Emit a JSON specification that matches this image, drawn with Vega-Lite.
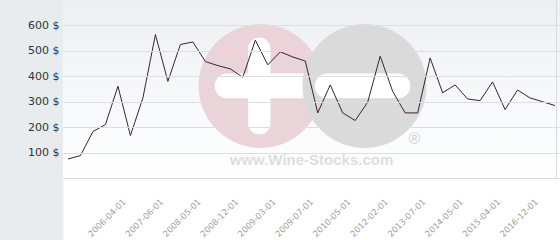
{
  "$schema": "https://vega.github.io/schema/vega-lite/v6.json",
  "autosize": {"type": "none"},
  "width": 497,
  "height": 178,
  "padding": {"left": 63, "top": 0, "right": 0, "bottom": 62},
  "background": "#e8ecef",
  "config": {
    "view": {
      "stroke": null,
      "fill": {"gradient": "linear", "x1": 0, "y1": 0, "x2": 0, "y2": 1, "stops": [{"offset": 0, "color": "#edf0f3"}, {"offset": 1, "color": "#ffffff"}]}
    },
    "font": "DejaVu Sans"
  },
  "resolve": {"scale": {"x": "independent", "y": "independent"}},
  "layer": [
    {
      "data": {"values": [{}]},
      "layer": [
        {
          "mark": {"type": "point", "shape": "circle", "filled": true, "size": 15376, "color": "#ebd4d9", "opacity": 1},
          "encoding": {
            "x": {"datum": 0.3975, "type": "quantitative", "scale": {"domain": [0, 1]}, "axis": null},
            "y": {"datum": 0.517, "type": "quantitative", "scale": {"domain": [0, 1]}, "axis": null}
          }
        },
        {
          "mark": {"type": "point", "shape": "M -0.2 -0.6 A 0.18 0.18 0 0 1 0.16 -0.6 L 0.16 0.6 A 0.18 0.18 0 0 1 -0.2 0.6 Z M -0.54 -0.2 L 0.8 -0.2 L 0.8 0.2 L -0.54 0.2 A 0.2 0.2 0 0 1 -0.54 -0.2 Z", "filled": true, "size": 15376, "color": "#ffffff", "opacity": 1},
          "encoding": {
            "x": {"datum": 0.3975, "type": "quantitative", "scale": {"domain": [0, 1]}, "axis": null},
            "y": {"datum": 0.517, "type": "quantitative", "scale": {"domain": [0, 1]}, "axis": null}
          }
        },
        {
          "mark": {"type": "point", "shape": "circle", "filled": true, "size": 15376, "color": "#dadada", "opacity": 1},
          "encoding": {
            "x": {"datum": 0.6066, "type": "quantitative", "scale": {"domain": [0, 1]}, "axis": null},
            "y": {"datum": 0.517, "type": "quantitative", "scale": {"domain": [0, 1]}, "axis": null}
          }
        },
        {
          "mark": {"type": "point", "shape": "M -0.6 -0.2 L 0.54 -0.2 A 0.2 0.2 0 0 1 0.54 0.2 L -0.6 0.2 A 0.2 0.2 0 0 1 -0.6 -0.2 Z", "filled": true, "size": 15376, "color": "#ffffff", "opacity": 1},
          "encoding": {
            "x": {"datum": 0.6066, "type": "quantitative", "scale": {"domain": [0, 1]}, "axis": null},
            "y": {"datum": 0.517, "type": "quantitative", "scale": {"domain": [0, 1]}, "axis": null}
          }
        },
        {
          "mark": {"type": "text", "text": "www.Wine-Stocks.com", "font": "Liberation Sans", "fontWeight": "bold", "fontSize": 15, "color": "#dedede", "align": "center", "baseline": "middle"},
          "encoding": {
            "x": {"datum": 0.5, "type": "quantitative", "scale": {"domain": [0, 1]}, "axis": null},
            "y": {"datum": 0.101, "type": "quantitative", "scale": {"domain": [0, 1]}, "axis": null}
          }
        },
        {
          "mark": {"type": "text", "text": "®", "font": "Liberation Sans", "fontSize": 16, "color": "#d2d2d2", "align": "center", "baseline": "middle"},
          "encoding": {
            "x": {"datum": 0.707, "type": "quantitative", "scale": {"domain": [0, 1]}, "axis": null},
            "y": {"datum": 0.219, "type": "quantitative", "scale": {"domain": [0, 1]}, "axis": null}
          }
        }
      ]
    },
    {
      "data": {"values": [
        {"date": "2005-04-01", "price": 75},
        {"date": "2005-07-01", "price": 88},
        {"date": "2005-10-01", "price": 183},
        {"date": "2006-01-01", "price": 210},
        {"date": "2006-04-01", "price": 361},
        {"date": "2006-09-01", "price": 167},
        {"date": "2007-01-01", "price": 315},
        {"date": "2007-06-01", "price": 564},
        {"date": "2007-10-01", "price": 380},
        {"date": "2008-01-01", "price": 525},
        {"date": "2008-05-01", "price": 535},
        {"date": "2008-07-01", "price": 458},
        {"date": "2008-10-01", "price": 442},
        {"date": "2008-12-01", "price": 429},
        {"date": "2009-01-01", "price": 396},
        {"date": "2009-02-01", "price": 542},
        {"date": "2009-03-01", "price": 445},
        {"date": "2009-04-01", "price": 496},
        {"date": "2009-05-01", "price": 476},
        {"date": "2009-07-01", "price": 460},
        {"date": "2009-10-01", "price": 256},
        {"date": "2010-01-01", "price": 366},
        {"date": "2010-05-01", "price": 256},
        {"date": "2010-11-01", "price": 226},
        {"date": "2011-06-01", "price": 298},
        {"date": "2012-02-01", "price": 479},
        {"date": "2012-08-01", "price": 341},
        {"date": "2013-01-01", "price": 256},
        {"date": "2013-07-01", "price": 256},
        {"date": "2013-10-01", "price": 472},
        {"date": "2014-01-01", "price": 335},
        {"date": "2014-05-01", "price": 366},
        {"date": "2014-09-01", "price": 311},
        {"date": "2015-01-01", "price": 304},
        {"date": "2015-04-01", "price": 378},
        {"date": "2015-10-01", "price": 269},
        {"date": "2016-05-01", "price": 346},
        {"date": "2016-12-01", "price": 315},
        {"date": "2017-05-01", "price": 300},
        {"date": "2017-11-01", "price": 285}
      ]},
      "resolve": {"axis": {"x": "independent", "y": "independent"}},
      "layer": [
        {
          "mark": {"type": "line", "opacity": 0},
          "encoding": {
            "x": {"field": "date", "type": "ordinal", "sort": null, "scale": {"type": "point", "padding": 0.4},
                  "axis": {"orient": "bottom", "title": null, "labels": false, "ticks": false, "grid": false, "domain": true, "domainColor": "#ffffff", "domainWidth": 62, "offset": 31}},
            "y": {"field": "price", "type": "quantitative", "scale": {"domain": [0, 700], "nice": false},
                  "axis": {"orient": "right", "title": null, "labels": false, "ticks": false, "grid": false, "domain": true, "domainColor": "#d8dadd", "offset": -4}}
          }
        },
        {
          "mark": {"type": "line", "color": "#3a2232", "strokeWidth": 1},
          "encoding": {
            "x": {"field": "date", "type": "ordinal", "sort": null, "scale": {"type": "point", "padding": 0.4},
                  "axis": {"orient": "bottom", "title": null, "domain": false, "ticks": false, "grid": false,
                           "values": ["2006-04-01", "2007-06-01", "2008-05-01", "2008-12-01", "2009-03-01", "2009-07-01", "2010-05-01", "2012-02-01", "2013-07-01", "2014-05-01", "2015-04-01", "2016-12-01"],
                           "labelAngle": -45, "labelFontSize": 8.5, "labelColor": "#a0a0a0", "labelPadding": 19, "labelOffset": 3, "labelFont": "DejaVu Sans"}},
            "y": {"field": "price", "type": "quantitative", "scale": {"domain": [0, 700], "nice": false},
                  "axis": {"orient": "left", "title": null, "domain": false, "ticks": false, "zindex": 1,
                           "values": [0, 100, 200, 300, 400, 500, 600],
                           "labelExpr": "datum.value == 0 ? '' : datum.value + ' $'",
                           "labelFontSize": 11, "labelColor": "#333333", "labelPadding": 4, "labelFont": "DejaVu Sans",
                           "grid": true, "gridColor": "#dcdfe2", "gridWidth": 1}}
          }
        }
      ]
    }
  ]
}
